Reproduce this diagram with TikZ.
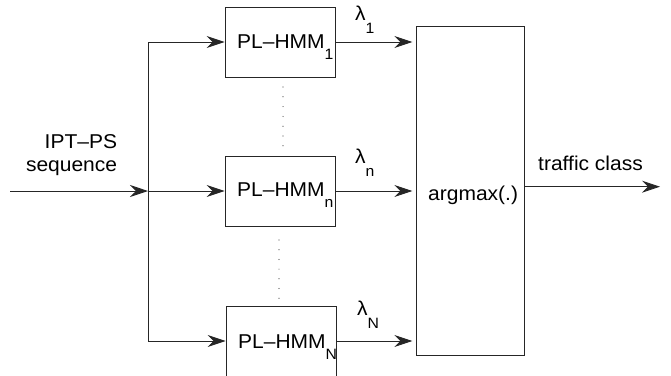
\documentclass[tikz,border=0pt]{standalone}
\usepackage{fontspec}
\setmainfont[FakeStretch=1.05]{Liberation Sans}
\usetikzlibrary{arrows.meta}
\newcommand\subtxt[2][11pt]{\raisebox{-#1}{\fontsize{15}{15}\selectfont #2}}
\begin{document}
\begin{tikzpicture}[x=1pt,y=-1pt,
  blk/.style={draw=black!85, line width=0.9pt, minimum width=110pt, minimum height=70pt, inner sep=0pt},
  conn/.style={draw=black!85, line width=0.9pt, -{Stealth[length=18pt,width=12pt,inset=6pt]}},
  wire/.style={draw=black!85, line width=0.9pt},
  lbl/.style={inner sep=0pt, font=\fontsize{20}{24}\selectfont},
  ]
\useasboundingbox (0,0) rectangle (671,375);
% boxes
\node[blk] (b1) at (280,42) {};
\node[blk] (bn) at (280,191) {};
\node[blk] (bN) at (281,341) {};
\node[blk, minimum width=107.5pt, minimum height=329pt] (am) at (470.5,190.5) {};
% texts
\node[lbl, anchor=base west] (t1) at (237,48.3) {PL–HMM\subtxt{1}};
\node[lbl, anchor=base west] (tn) at (237,196.7) {PL–HMM\subtxt{n}};
\node[lbl, anchor=base west] (tN) at (238,348.3) {PL–HMM\subtxt{N}};
\node[lbl, anchor=base west] (l1) at (355,20) {λ\subtxt[13pt]{1}};
\node[lbl, anchor=base west] (ln) at (355,163) {λ\subtxt[13pt]{n}};
\node[lbl, anchor=base west] (lN) at (357,315) {λ\subtxt[13pt]{N}};
\node[lbl, anchor=base west] (ta) at (428,200) {argmax(.)};
\node[lbl, anchor=base west] (tc) at (538,170) {traffic class};
\node[lbl, anchor=base east] (ti1) at (117.3,148.3) {IPT–PS};
\node[lbl, anchor=base east] (ti2) at (117.3,171.7) {sequence};
% connectors
\coordinate (in) at (10,191);
\coordinate (split) at (148,191);
\coordinate (out) at (660,186.7);
\draw[conn] (in) -- (split);
\draw[wire] (split |- b1.west) -- (split |- bN.west);
\draw[conn] (split |- b1.west) -- (b1.west);
\draw[conn] (split |- bn.west) -- (bn.west);
\draw[conn] (split |- bN.west) -- (bN.west);
\draw[conn, shorten >=4pt] (b1.east) -- (b1.east -| am.west);
\draw[conn, shorten >=4pt] (bn.east) -- (bn.east -| am.west);
\draw[conn, shorten >=4pt] (bN.east) -- (bN.east -| am.west);
\draw[conn] (am.east |- out) -- (out);
% dots
\foreach \i in {0,...,6} {
  \fill[black!70] (283,87+9.8*\i) circle (0.6);
  \fill[black!70] (279,240+9.7*\i) circle (0.6);
}
\end{tikzpicture}
\end{document}
